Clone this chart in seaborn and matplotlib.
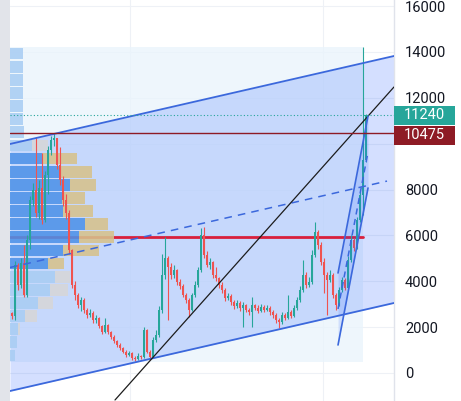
import numpy as np
import matplotlib
matplotlib.use("Agg")
import matplotlib.pyplot as plt
from matplotlib.patches import Rectangle
import seaborn as sns

# candles (one per bar index), open = previous close
first_open = 2600
closes = [2485, 4710, 3840, 4800, 3400, 5800, 7540, 7980, 6980, 8070,
          6670, 8630, 9720, 10160, 10250, 9070, 8410, 7540, 6980, 5360,
          3840, 3400, 2960, 3180, 2750, 2530, 2620, 2310, 2400, 2050,
          1790, 2090, 1790, 1570, 1400, 1220, 1090, 920, 785, 870,
          650, 610, 740, 700, 1870, 920, 700, 1440, 1660, 2750,
          4270, 5010, 4620, 4270, 4490, 3970, 3790, 3400, 3180, 2750,
          3400, 3840, 4490, 6020, 5140, 4710, 4840, 4270, 4140, 3840,
          3620, 3270, 3360, 3100, 2920, 3050, 2830, 2960, 2750, 2660,
          2960, 2830, 2700, 2880, 2750, 2830, 2660, 2530, 2310, 2220,
          2530, 2400, 2660, 2490, 2830, 3180, 3620, 4270, 3840, 3970,
          5140, 6150, 5580, 4840, 4270, 4050, 4270, 3400, 2960, 3620,
          4050, 3710, 4930, 5800, 5450, 6670, 7760, 9290, 11240]
highs = [2650, 4900, 4800, 5000, 5580, 6000, 7700, 8300, 10290, 8400,
         9590, 8800, 9900, 10350, 10460, 10250, 9850, 8600, 7800, 7100,
         5400, 4000, 3500, 3300, 3250, 2850, 2800, 2700, 2550, 2450,
         2100, 2400, 2150, 1850, 1650, 1450, 1300, 1150, 1000, 950,
         900, 720, 850, 800, 2000, 1900, 1000, 1550, 1870, 2900,
         5200, 5930, 5100, 4800, 4700, 4550, 4100, 3900, 3500, 3250,
         3500, 4000, 4600, 6300, 6350, 5300, 5000, 4900, 4600, 4200,
         3950, 3700, 3500, 3450, 3200, 3200, 3150, 3100, 3000, 2850,
         3300, 3000, 2950, 3000, 2950, 2950, 2900, 2750, 2600, 2400,
         2650, 2600, 3400, 2750, 2950, 3300, 3800, 4930, 4400, 4200,
         5360, 6580, 6250, 5700, 5000, 4400, 4500, 4350, 3500, 3750,
         4200, 4150, 5100, 6000, 5900, 6800, 7900, 14214, 11300]
lows = [2350, 2300, 3600, 3700, 3300, 3300, 5400, 7300, 6800, 6700,
        6500, 6600, 7800, 9500, 9900, 8900, 8200, 7300, 6700, 5200,
        3700, 3200, 2850, 2700, 2600, 2400, 2450, 2200, 2200, 1950,
        1700, 1750, 1700, 1500, 1300, 1150, 1000, 850, 700, 720,
        560, 520, 580, 600, 650, 850, 560, 650, 1350, 1550,
        2600, 4100, 2300, 4100, 4150, 3850, 3650, 3300, 3050, 2440,
        2700, 3300, 3750, 4400, 5000, 4600, 4550, 4150, 4000, 3700,
        3500, 3150, 3200, 2950, 2800, 2850, 2700, 2000, 2650, 2550,
        2000, 2750, 2600, 2650, 2650, 2700, 2550, 2400, 2200, 1950,
        2150, 2300, 2350, 2400, 2450, 2750, 3100, 3550, 3700, 3750,
        3900, 5050, 5400, 4700, 3500, 2530, 3950, 3250, 2750, 2900,
        3550, 3600, 3650, 4850, 5300, 5400, 6600, 6900, 9200]

# fixed range volume profile, rows listed from top to bottom
prof_up = [13, 13, 13, 13, 13, 13, 14, 22, 32, 50, 60, 52, 53, 75, 69, 53,
           38, 45, 40, 28, 15, 8, 7, 5]
prof_total = [13, 13, 13, 13, 13, 13, 14, 38, 67, 82, 86, 75, 83, 98, 104,
              89, 54, 60, 58, 43, 27, 10, 7, 5]
prof_top, prof_bottom = 14214, 480
value_area = (8, 16)
poc_price = 5916
range_end = 117

# drawings
chan_x = [-0.67, 127.33]
chan_upper = [9984, 13821]
chan_lower = [-785, 3052]
chan_mid_x = [-0.67, 125]
chan_mid = [4600, 8367]
trend_x = [34.33, 127.33]
trend_y = [-1177, 12470]
wedge_x = [108.67, 118.67]
wedge_upper = [4360, 11205]
wedge_lower = [1221, 8066]
wedge_mid = [2790, 9636]

level_red = 10475
last_price = 11240
yticks = list(range(0, 16001, 2000))
hidden_tick = 10000   # covered by the price tags
grid_x = [39.33, 103.67]

sns.set_theme(style="white")
plt.rcParams['font.family'] = ['Roboto', 'DejaVu Sans']

fig = plt.figure(figsize=(4.61, 4.01), dpi=100)
fig.patch.set_facecolor("white")
fig.patches.append(Rectangle((0, 0), 10 / 461, 1, transform=fig.transFigure,
                             facecolor="#e2e4ea", edgecolor="none"))
ax = fig.add_axes([10 / 461, 0, 384 / 461, 1])
ax.set_xlim(-0.67, 127.33)
ax.set_ylim(-1221, 16262)

BLUE = "#3b68dc"
TEAL = "#26a69a"
RED = "#ef5350"

# range box
ax.add_patch(Rectangle((chan_x[0], prof_bottom), range_end - chan_x[0],
                       prof_top - prof_bottom, facecolor="#eaf4fc",
                       alpha=0.8, edgecolor="none", zorder=1))

# main channel
ax.fill_between(chan_x, chan_lower, chan_upper, color="#2962ff", alpha=0.2,
                lw=0, zorder=2)
ax.plot(chan_x, chan_upper, color=BLUE, lw=1.3, zorder=7)
ax.plot(chan_x, chan_lower, color=BLUE, lw=1.3, zorder=7)
ax.plot(chan_mid_x, chan_mid, color=BLUE, lw=1.1, ls=(0, (5, 4)), zorder=7)

# POC line
ax.plot([chan_x[0], range_end], [poc_price, poc_price], color="#d91f3c",
        lw=2, zorder=3)

# volume profile
row_h = (prof_top - prof_bottom) / len(prof_up)
for k, (up, tot) in enumerate(zip(prof_up, prof_total)):
    y0 = prof_top - row_h * (k + 1) + row_h * 0.05
    inside = value_area[0] <= k <= value_area[1]
    c_up = "#4d92e8" if inside else "#a9cdf4"
    c_dn = "#d6c28c" if inside else "#d6d6d8"
    ax.add_patch(Rectangle((chan_x[0], y0), up / 3, row_h * 0.9,
                           facecolor=c_up, edgecolor="none", alpha=0.88, zorder=4))
    if tot > up:
        ax.add_patch(Rectangle((chan_x[0] + up / 3, y0), (tot - up) / 3,
                               row_h * 0.9, facecolor=c_dn, edgecolor="none",
                               alpha=0.88, zorder=4))

# candles
opens = np.array([first_open] + closes[:-1])
closes_a = np.array(closes)
idx = np.arange(len(closes))
colors = np.where(closes_a >= opens, TEAL, RED)
ax.vlines(idx, lows, highs, colors=colors, lw=0.8, zorder=5)
ax.bar(idx, np.abs(closes_a - opens), bottom=np.minimum(opens, closes_a),
       width=0.55, color=colors, zorder=5, linewidth=0)

# other drawings
ax.plot(trend_x, trend_y, color="#1c1c1c", lw=0.9, zorder=7)
ax.fill_between(wedge_x, wedge_lower, wedge_upper, color="#2962ff",
                alpha=0.15, lw=0, zorder=6)
ax.plot(wedge_x, wedge_upper, color=BLUE, lw=1.2, zorder=7)
ax.plot(wedge_x, wedge_lower, color=BLUE, lw=1.2, zorder=7)
ax.plot(wedge_x, wedge_mid, color=BLUE, lw=1.1, ls=(0, (4, 3)), zorder=7)

ax.axhline(level_red, color="#8e1b25", lw=1, zorder=7)
ax.axhline(last_price, color=TEAL, lw=0.8, ls=(0, (1, 2)), zorder=7)

# axes styling
ax.set_xticks(grid_x)
ax.set_xticklabels([])
ax.set_yticks(yticks)
ax.set_yticklabels(["" if t == hidden_tick else str(t) for t in yticks])
ax.yaxis.tick_right()
ax.tick_params(axis="y", length=0, pad=8, labelsize=10.5, labelcolor="#131722")
ax.tick_params(axis="x", length=0)
ax.grid(True, color="#eef1f6", lw=0.8)
ax.set_axisbelow(True)
for side in ["left", "top", "bottom"]:
    ax.spines[side].set_visible(False)
ax.spines["right"].set_color("#e0e3eb")
ax.spines["right"].set_linewidth(1)

# price tags
tag_h = 828
for val, ctr, col in [(last_price, last_price, TEAL),
                      (level_red, last_price - tag_h - 40, "#8e1b25")]:
    ax.add_patch(Rectangle((1.0, ctr - tag_h / 2), 0.159, tag_h,
                           transform=ax.get_yaxis_transform(), facecolor=col,
                           edgecolor="none", clip_on=False, zorder=20))
    ax.text(1.079, ctr, str(val), transform=ax.get_yaxis_transform(),
            ha="center", va="center", color="white", fontsize=10.5,
            zorder=21, clip_on=False)

fig.savefig("out.png", dpi=100)
